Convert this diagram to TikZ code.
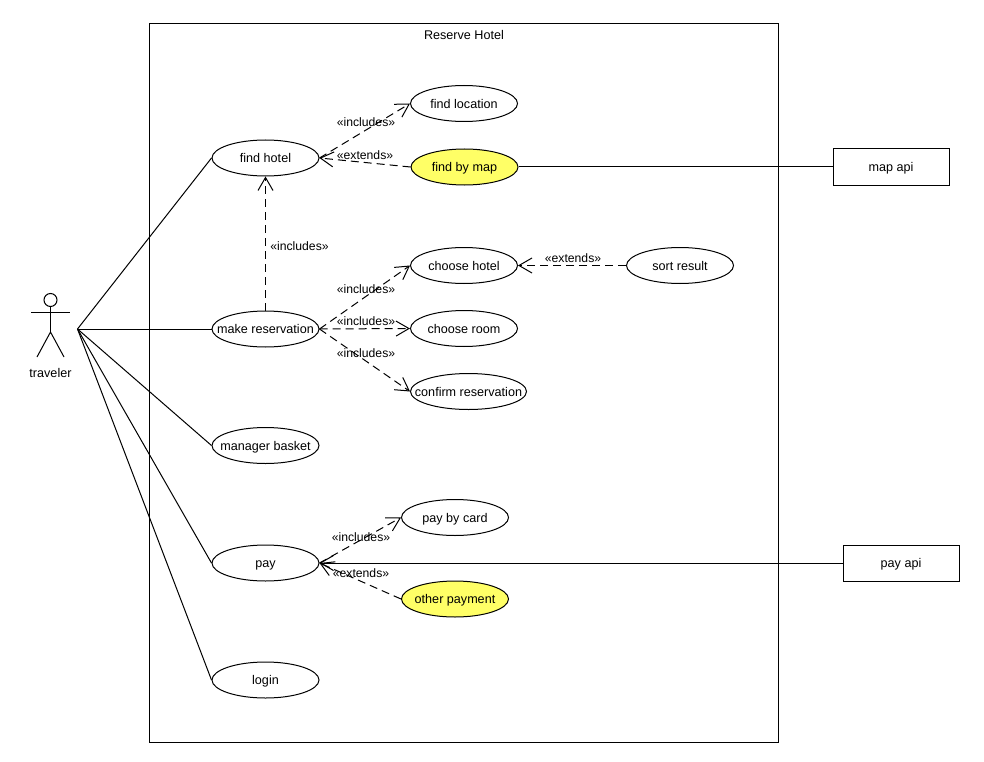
\documentclass[tikz,border=0pt]{standalone}
\usepackage{fontspec}
\setmainfont{Liberation Sans}
\usetikzlibrary{arrows.meta,shapes.geometric}
\definecolor{ExtClr}{rgb}{1,1,0.4}

\tikzset{
  lbl/.style={inner sep=0pt,text height=11pt,text depth=1.5pt},
  usecase/.style={draw,ellipse,fill=white,minimum width=107pt,minimum height=36pt,lbl,
    execute at begin node={\hbox to 0pt\bgroup\hss},execute at end node={\hss\egroup}},
  usecaseext/.style={usecase,fill=ExtClr},
  apibox/.style={draw,rectangle,minimum width=116pt,minimum height=36pt,lbl},
  stereo/.style={lbl,font=\fontsize{12.2}{14}\selectfont},
  opentip/.style={-{Straight Barb[length=13pt,width=15pt]}},
  dep/.style={dashed,dash pattern=on 8pt off 5pt,opentip},
  assoc/.style={line width=1pt}
}

\begin{document}
\begin{tikzpicture}[x=1pt,y=-1pt,line width=1pt,font=\fontsize{12.6}{14}\selectfont]
\useasboundingbox (0,0) rectangle (984,762);

\draw (149.5,23.5) rectangle (778.5,742.5);
\node[lbl] (title) at (464,35) {Reserve Hotel};

% actor
\draw (50.5,300) circle (6.5);
\draw (50.5,306.5) -- (50.5,332);
\draw (31,312.5) -- (70,312.5);
\draw (37,357) -- (50.5,332) -- (64,357);
\node[lbl] (traveler) at (50.5,373) {traveler};
\coordinate (actor) at (77.5,329);

\node[usecase] (findhotel) at (265.5,158) {find hotel};
\node[usecase] (makeres) at (265.5,329) {make reservation};
\node[usecase] (basket) at (265.5,445.5) {manager basket};
\node[usecase] (pay) at (265.5,563) {pay};
\node[usecase] (login) at (265.5,680) {login};

\node[usecase] (findloc) at (464,103.5) {find location};
\node[usecaseext] (findmap) at (464.5,167) {find by map};
\node[usecase] (choosehotel) at (464,265.5) {choose hotel};
\node[usecase] (sortres) at (680,265.5) {sort result};
\node[usecase] (chooseroom) at (464,328.5) {choose room};
\node[usecase,minimum width=116pt] (confirm) at (468.5,391.5) {confirm reservation};
\node[usecase] (paycard) at (455,517.5) {pay by card};
\node[usecaseext] (otherpay) at (455,599) {other payment};

\node[apibox] (mapapi) at (891,167) {map api};
\node[apibox] (payapi) at (901,563) {pay api};

\draw[assoc] (actor) -- (findhotel.west);
\draw[assoc] (actor) -- (makeres.west);
\draw[assoc] (actor) -- (basket.west);
\draw[assoc] (actor) -- (pay.west);
\draw[assoc] (actor) -- (login.west);
\draw[assoc] (findmap.east) -- (mapapi.west);
\draw[assoc,opentip] (payapi.west) -- (pay.east);

\draw[dep] (findhotel.east) -- (findloc.west);
\draw[dep] (findmap.west) -- (findhotel.east);
\draw[dep] (makeres.north) -- (findhotel.south);
\draw[dep] (makeres.east) -- (choosehotel.west);
\draw[dep] (makeres.east) -- (chooseroom.west);
\draw[dep] (makeres.east) -- (confirm.west);
\draw[dep] (sortres.west) -- (choosehotel.east);
\draw[dep] (pay.east) -- (paycard.west);
\draw[dep] (otherpay.west) -- (pay.east);

\node[stereo] (incloc) at (366,122) {«includes»};
\node[stereo] (extmap) at (365,155) {«extends»};
\node[stereo] (incfind) at (299.5,246) {«includes»};
\node[stereo] (inchotel) at (366,289) {«includes»};
\node[stereo] (incroom) at (366,321) {«includes»};
\node[stereo] (incconf) at (366,352.5) {«includes»};
\node[stereo] (extsort) at (573,258) {«extends»};
\node[stereo] (inccard) at (361,537) {«includes»};
\node[stereo] (extother) at (361,573) {«extends»};
\end{tikzpicture}
\end{document}
